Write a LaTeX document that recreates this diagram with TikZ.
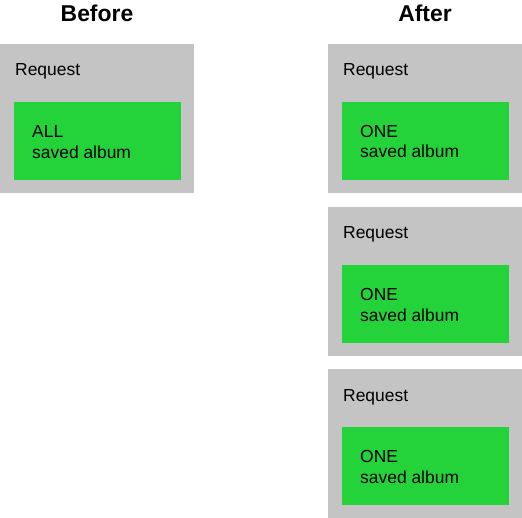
\documentclass[tikz,border=0pt]{standalone}
\usepackage{fontspec}
\setmainfont{Liberation Sans}
\usepackage{tikz}
\usetikzlibrary{positioning}
\definecolor{requestgray}{RGB}{196,196,196}
\definecolor{albumgreen}{RGB}{36,211,58}

\begin{document}
\begin{tikzpicture}[
    x=1bp, y=-1bp,
    request/.style={fill=requestgray, minimum width=194bp, minimum height=149bp, anchor=north west, inner sep=0pt},
    album/.style={fill=albumgreen, minimum width=167bp, minimum height=78bp, anchor=north west, inner sep=0pt},
    reqlabel/.style={anchor=base west, inner sep=0pt, font=\fontsize{17.5}{21}\selectfont},
    albumlabel/.style={anchor=base west, inner sep=0pt, align=left, font=\fontsize{17.5}{21}\selectfont},
    heading/.style={anchor=base, inner sep=0pt, font=\bfseries\fontsize{23}{28}\selectfont}
]
    \useasboundingbox (0,0) rectangle (522,518);

    % Headings
    \node[heading] (before) at (97,22) {Before};
    \node[heading] (after) at (425,22) {After};

    % Before
    \node[request] (req0) at (0,44) {};
    \node[reqlabel] (reqtext0) at (15,76) {Request};
    \node[album] (album0) at (14,102) {};
    \node[albumlabel] (albumtext0) at (32,158.5) {ALL\\saved album};

    % After
    \node[request] (req1) at (328,43.5) {};
    \node[reqlabel] (reqtext1) at (343,75.5) {Request};
    \node[album] (album1) at (342,101.5) {};
    \node[albumlabel] (albumtext1) at (360,158) {ONE\\saved album};

    \node[request] (req2) at (328,206.5) {};
    \node[reqlabel] (reqtext2) at (343,238.5) {Request};
    \node[album] (album2) at (342,264.5) {};
    \node[albumlabel] (albumtext2) at (360,321) {ONE\\saved album};

    \node[request] (req3) at (328,369) {};
    \node[reqlabel] (reqtext3) at (343,401) {Request};
    \node[album] (album3) at (342,427) {};
    \node[albumlabel] (albumtext3) at (360,483.5) {ONE\\saved album};
\end{tikzpicture}
\end{document}
